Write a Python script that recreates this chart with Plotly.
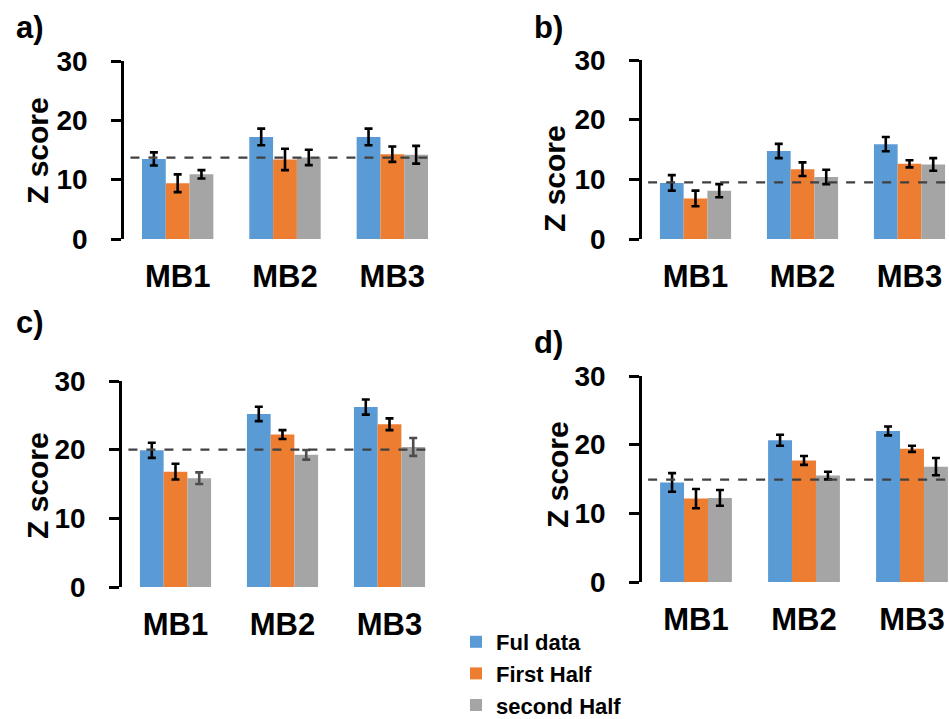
import plotly.graph_objects as go

W, H = 949, 719

categories = ["MB1", "MB2", "MB3"]
series_names = ["Ful data", "First Half", "second Half"]
series_colors = ["#5B9BD5", "#ED7D31", "#A5A5A5"]

# Z scores per panel: rows are series (Ful data, First Half, second Half)
a_values = [[13.5, 17.2, 17.2], [9.4, 13.4, 14.3], [10.9, 13.75, 14.2]]
a_errors = [[1.1, 1.4, 1.4], [1.5, 1.8, 1.3], [0.7, 1.3, 1.5]]
b_values = [[9.4, 14.75, 15.9], [6.8, 11.7, 12.6], [8.1, 10.4, 12.5]]
b_errors = [[1.3, 1.2, 1.2], [1.3, 1.15, 0.6], [1.1, 1.2, 1.05]]
c_values = [[19.9, 25.2, 26.2], [16.8, 22.2, 23.7], [15.85, 19.25, 20.4]]
c_errors = [[1.1, 1.05, 1.1], [1.15, 0.65, 0.85], [0.85, 0.7, 1.3]]
d_values = [[14.5, 20.65, 22.0], [12.15, 17.7, 19.4], [12.25, 15.5, 16.8]]
d_errors = [[1.35, 0.8, 0.65], [1.4, 0.65, 0.45], [1.15, 0.55, 1.25]]

# reference (dashed) level in each panel
thresholds = [13.7, 9.5, 20.0, 14.9]
panel_labels = ["a)", "b)", "c)", "d)"]
y_ticks = [0, 10, 20, 30]

FONT = "Liberation Sans, Arial, sans-serif"


def px_x(p):
    return p / W


def px_y(p):
    return 1 - p / H


# panel geometry in pixels
panels = [
    dict(x0=124, x1=446, yt=61, yb=239, xr=2.5, vals=a_values, errs=a_errors,
         lab=(14, 8), title=(38, 151), err_cols=["black", "black", "black"]),
    dict(x0=642, x1=949, yt=60, yb=239, xr=-0.5 + 307 / 107, vals=b_values, errs=b_errors,
         lab=(532, 8), title=(555, 179), err_cols=["black", "black", "black"]),
    dict(x0=122, x1=443, yt=381, yb=587, xr=2.5, vals=c_values, errs=c_errors,
         lab=(14, 303), title=(37, 486), err_cols=["black", "black", "#4d4d4d"]),
    dict(x0=642, x1=949, yt=376, yb=582, xr=-0.5 + 307 / 108, vals=d_values, errs=d_errors,
         lab=(532, 323), title=(557, 475), err_cols=["black", "black", "black"]),
]

fig = go.Figure()
shapes = []
annotations = []
layout_axes = {}

for i, p in enumerate(panels):
    n = i + 1
    xa = "x" if n == 1 else f"x{n}"
    ya = "y" if n == 1 else f"y{n}"
    for s in range(3):
        fig.add_trace(go.Bar(
            x=categories, y=p["vals"][s], name=series_names[s],
            marker=dict(color=series_colors[s], line=dict(width=0)),
            error_y=dict(type="data", array=p["errs"][s], visible=True,
                         color=p["err_cols"][s], thickness=2.6, width=4),
            xaxis=xa, yaxis=ya, showlegend=(n == 1), legendgroup=series_names[s],
        ))
    xkey = "xaxis" if n == 1 else f"xaxis{n}"
    ykey = "yaxis" if n == 1 else f"yaxis{n}"
    layout_axes[xkey] = dict(
        domain=[px_x(p["x0"]), px_x(p["x1"])], anchor=ya,
        range=[-0.5, p["xr"]], type="category",
        showline=False, showgrid=False, zeroline=False, ticks="",
        tickfont=dict(family=FONT, size=31, color="black", weight="bold"),
        ticklabelstandoff=16,
    )
    layout_axes[ykey] = dict(
        domain=[px_y(p["yb"]), px_y(p["yt"])], anchor=xa,
        range=[0, 30], tickvals=y_ticks,
        showline=True, linecolor="black", linewidth=2.5,
        ticks="outside", ticklen=10, tickwidth=2.5, tickcolor="black",
        showgrid=False, zeroline=False,
        tickfont=dict(family=FONT, size=28, color="black", weight="bold"),
        ticklabelstandoff=18,
    )
    shapes.append(dict(
        type="line", xref=f"{xa} domain", yref=ya,
        x0=0.02, x1=0.96 if p["xr"] == 2.5 else 1.0,
        y0=thresholds[i], y1=thresholds[i],
        line=dict(color="#404040", width=2.2, dash="dash"), layer="above",
    ))
    annotations.append(dict(
        text=panel_labels[i], xref="paper", yref="paper",
        x=px_x(p["lab"][0]), y=px_y(p["lab"][1]),
        xanchor="left", yanchor="top", showarrow=False,
        font=dict(family=FONT, size=31, color="black", weight="bold"),
    ))
    annotations.append(dict(
        text="Z score", xref="paper", yref="paper",
        x=px_x(p["title"][0]), y=px_y(p["title"][1]),
        xanchor="center", yanchor="middle", textangle=-90, showarrow=False,
        font=dict(family=FONT, size=30, color="black", weight="bold"),
    ))

fig.update_layout(
    width=W, height=H,
    margin=dict(l=0, r=0, t=0, b=0, autoexpand=False),
    paper_bgcolor="white", plot_bgcolor="white",
    barmode="group", bargap=0.335, bargroupgap=0,
    showlegend=True,
    legend=dict(
        x=px_x(456), y=px_y(726), xanchor="left", yanchor="bottom",
        font=dict(family=FONT, size=22, color="black", weight="bold"),
        bgcolor="rgba(0,0,0,0)", tracegroupgap=0, itemwidth=30,
    ),
    shapes=shapes, annotations=annotations,
    **layout_axes,
)

fig.write_html("out.html")
